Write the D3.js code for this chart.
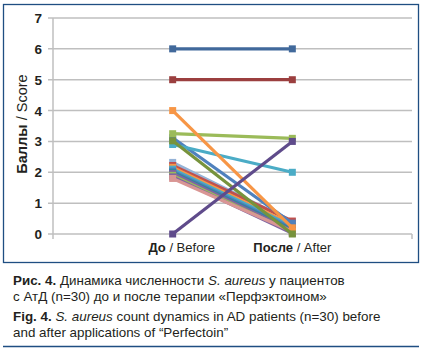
<!DOCTYPE html>
<html>
<head>
<meta charset="utf-8">
<script src="https://cdn.jsdelivr.net/npm/d3@7"></script>
<style>
  body { margin: 0; background: #fff; }
  svg { display: block; }
  .narrow { font-family: "Liberation Sans Narrow", "Arial Narrow", "Liberation Sans", sans-serif; }
  .cap { font-family: "Liberation Sans", Arial, sans-serif; font-size: 13.4px; fill: #231f20; }
</style>
</head>
<body>
<svg width="422" height="349"></svg>
<script>
/*global d3 */
// categories and per-patient scores (before, after), drawn bottom to top
var categories = ["До / Before", "После / After"];
var yTicks = [0, 1, 2, 3, 4, 5, 6, 7];
var before = [2.32, 2.22, 2.16, 2.1, 2.04, 2.0, 1.96, 1.9, 1.85, 1.8, 3.12, 2.9, 3.25, 4, 5, 6, 3.02, 0];
var after  = [0.4, 0.42, 0.3, 0.25, 0.2, 0.15, 0.1, 0.05, 0.02, 0.08, 0.35, 2.0, 3.1, 0.2, 5, 6, 0, 3.0];
var colors = ["#95b3d7", "#c0504d", "#f79646", "#4bacc6", "#4f81bd", "#31859c", "#8064a2", "#9bbb59", "#8064a2", "#d99694",
              "#4f81bd", "#4bacc6", "#9bbb59", "#f79646", "#9b3f3f", "#41699b", "#77933c", "#5f4b8b"];

var svg = d3.select("svg");

// frame
svg.append("rect").attr("x", 3.5).attr("y", 4.5).attr("width", 415).attr("height", 258)
    .attr("fill", "none").attr("stroke", "#1f4e82").attr("stroke-width", 1.3);
svg.append("line").attr("x1", 3).attr("x2", 419).attr("y1", 346.5).attr("y2", 346.5)
    .attr("stroke", "#1f4e82").attr("stroke-width", 1.3);

var x = d3.scalePoint().domain(categories).range([53, 412]).padding(1);
var y = d3.scaleLinear().domain([0, 7]).range([234, 18]);

// gridlines
svg.selectAll("line.grid").data(yTicks).enter().append("line")
    .attr("class", "grid")
    .attr("x1", 48).attr("x2", 412)
    .attr("y1", function (d) { return y(d); })
    .attr("y2", function (d) { return y(d); })
    .attr("stroke", "#bfbfbf").attr("stroke-width", 1.5);

// axes
svg.append("line").attr("x1", 53).attr("x2", 53).attr("y1", y(7)).attr("y2", y(0))
    .attr("stroke", "#bfbfbf").attr("stroke-width", 1.5);
[53, 412].forEach(function (px) {
    svg.append("line").attr("x1", px).attr("x2", px).attr("y1", y(0)).attr("y2", y(0) + 5)
        .attr("stroke", "#bfbfbf").attr("stroke-width", 1.5);
});

svg.selectAll("text.yt").data(yTicks).enter().append("text")
    .attr("class", "yt narrow")
    .attr("x", 42).attr("y", function (d) { return y(d) + 5; })
    .attr("text-anchor", "end").attr("font-size", 13.5).attr("font-weight", "bold")
    .attr("fill", "#231f20")
    .text(function (d) { return d; });

var yt = svg.append("text").attr("class", "narrow")
    .attr("transform", "translate(27,124) rotate(-90)")
    .attr("text-anchor", "middle").attr("font-size", 14.5).attr("fill", "#231f20");
yt.append("tspan").attr("font-weight", "bold").text("Баллы");
yt.append("tspan").text(" / Score");

svg.selectAll("text.xt").data(categories).enter().append("text")
    .attr("class", "xt narrow")
    .attr("x", function (d) { return x(d); }).attr("y", 252)
    .attr("dx", function (d, i) { return i === 0 ? 9 : 0; })
    .attr("text-anchor", "middle").attr("font-size", 13).attr("fill", "#231f20")
    .each(function (d) {
        var parts = d.split(" / ");
        var t = d3.select(this);
        t.append("tspan").attr("font-weight", "bold").text(parts[0]);
        t.append("tspan").text(" / " + parts[1]);
    });

// series
var series = before.map(function (b, i) { return {vals: [b, after[i]], color: colors[i]}; });
var g = svg.selectAll("g.s").data(series).enter().append("g").attr("class", "s");
g.append("line")
    .attr("x1", x(categories[0])).attr("x2", x(categories[1]))
    .attr("y1", function (d) { return y(d.vals[0]); })
    .attr("y2", function (d) { return y(d.vals[1]); })
    .attr("stroke", function (d) { return d.color; }).attr("stroke-width", 3.2);
g.selectAll("rect").data(function (d) { return d.vals.map(function (v, j) { return {v: v, c: categories[j], color: d.color}; }); })
    .enter().append("rect")
    .attr("x", function (d) { return x(d.c) - 3.5; })
    .attr("y", function (d) { return y(d.v) - 3.5; })
    .attr("width", 7).attr("height", 7)
    .attr("fill", function (d) { return d.color; });

// caption
var lines = [
    [["Рис. 4.", "bold", false], [" Динамика численности ", "normal", false], ["S. aureus", "normal", true], [" у пациентов", "normal", false]],
    [["с АтД (n=30) до и после терапии «Перфэктоином»", "normal", false]],
    [["Fig. 4.", "bold", false], [" ", "normal", false], ["S. aureus", "normal", true], [" count dynamics in AD patients (n=30) before", "normal", false]],
    [["and after applications of “Perfectoin”", "normal", false]]
];
var baselines = [285, 301, 321, 337];
lines.forEach(function (ln, i) {
    var t = svg.append("text").attr("class", "cap").attr("x", 13).attr("y", baselines[i]);
    ln.forEach(function (p) {
        t.append("tspan").attr("font-weight", p[1]).attr("font-style", p[2] ? "italic" : "normal")
            .attr("xml:space", "preserve").text(p[0]);
    });
});
</script>
</body>
</html>
